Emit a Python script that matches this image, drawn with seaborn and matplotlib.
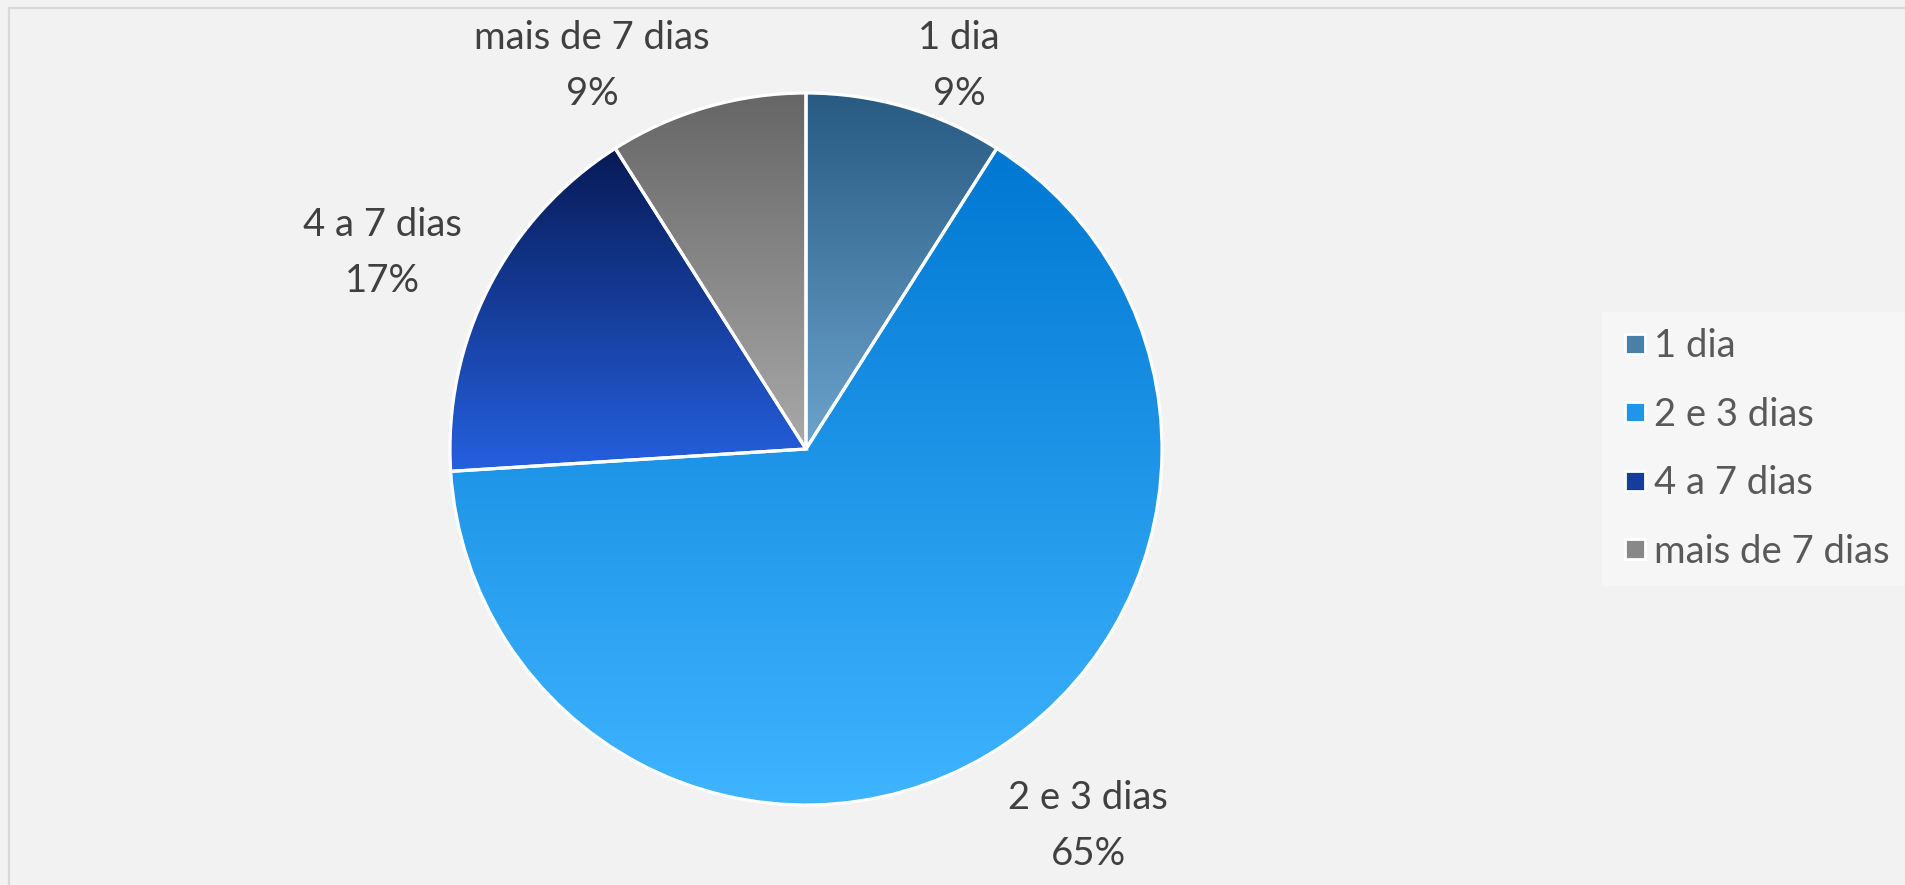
import numpy as np
import matplotlib
matplotlib.use('Agg')
import matplotlib.pyplot as plt
import seaborn as sns
from matplotlib.colors import LinearSegmentedColormap, to_rgb
from matplotlib.lines import Line2D

sns.set_theme(style='white')
plt.rcParams['font.family'] = ['Lato', 'DejaVu Sans']

categories = ['1 dia', '2 e 3 dias', '4 a 7 dias', 'mais de 7 dias']
percent = [9, 65, 17, 9]
# top / bottom colour of the vertical gradient in each slice
grad_top = ['#285a82', '#0078d2', '#071a55', '#666666']
grad_bottom = ['#6ca4cd', '#3fb4ff', '#2560e0', '#a9a9a9']
# label anchor in pie units (radius = 1)
label_pos = [(0.43, 1.076), (0.792, -1.059), (-1.191, 0.551), (-0.601, 1.076)]

W, H = 1906, 885
fig = plt.figure(figsize=(W / 100, H / 100), dpi=100)
fig.patch.set_facecolor('#f2f2f2')

cx, cy, r = 806, 449, 356
ax = fig.add_axes([(cx - r) / W, (H - cy - r) / H, 2 * r / W, 2 * r / H])
ax.set_facecolor('none')

wedges, _ = ax.pie(percent, startangle=90, counterclock=False, radius=1,
                   colors=grad_bottom,
                   wedgeprops=dict(edgecolor='white', linewidth=2.3))

grad = np.linspace(0, 1, 256).reshape(-1, 1)
for w, c0, c1 in zip(wedges, grad_top, grad_bottom):
    verts = w.get_path().vertices
    y0, y1 = verts[:, 1].min(), verts[:, 1].max()
    x0, x1 = verts[:, 0].min(), verts[:, 0].max()
    cmap = LinearSegmentedColormap.from_list('g', [c1, c0])
    im = ax.imshow(grad, cmap=cmap, extent=[x0, x1, y0, y1], origin='lower',
                   aspect='auto', zorder=w.get_zorder() - 0.1)
    im.set_clip_path(w)
    w.set_facecolor('none')
    w.set_zorder(w.get_zorder() + 1)
ax.set_xlim(-1, 1)
ax.set_ylim(-1, 1)
ax.set_aspect('equal')
ax.axis('off')

for cat, p, (lx, ly) in zip(categories, percent, label_pos):
    ax.text(lx, ly, f'{cat}\n{p}%', ha='center', va='center', fontsize=27.5,
            color='#404040', linespacing=1.68, clip_on=False)

handles = [Line2D([0], [0], marker='s', linestyle='none', markersize=14,
                  markerfacecolor=0.5 * (np.array(to_rgb(a)) + np.array(to_rgb(b))),
                  markeredgecolor='white', markeredgewidth=2)
           for a, b in zip(grad_top, grad_bottom)]
leg = fig.legend(handles, categories, loc='center left',
                 bbox_to_anchor=(1602 / W, 1 - 449 / H), frameon=True,
                 fontsize=27.5, labelspacing=0.85, handletextpad=0.05,
                 handlelength=0.9, borderpad=0.42, borderaxespad=0,
                 labelcolor='#595959')
leg.get_frame().set_facecolor('#f8f8f8')
leg.get_frame().set_edgecolor('none')
leg.get_frame().set_boxstyle('square', pad=0)

# chart-area border (left and top edges visible)
fig.add_artist(Line2D([9 / W, 9 / W], [0, 1 - 7.5 / H], transform=fig.transFigure,
                      color='#d9d9d9', linewidth=1.6))
fig.add_artist(Line2D([9 / W, 1], [1 - 7.5 / H, 1 - 7.5 / H], transform=fig.transFigure,
                      color='#d9d9d9', linewidth=1.6))

fig.savefig('out.png', dpi=100, facecolor=fig.get_facecolor())
